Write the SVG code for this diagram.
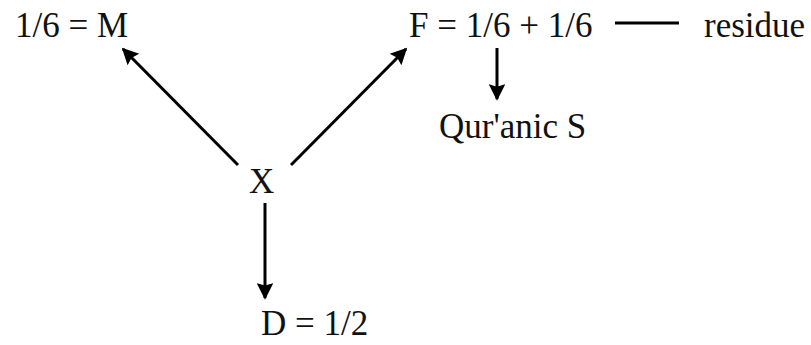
<svg xmlns="http://www.w3.org/2000/svg" width="811" height="345" viewBox="0 0 811 345">
<defs>
<marker id="ah" viewBox="0 0 10 10" refX="9" refY="5" markerWidth="6.5" markerHeight="5.5" markerUnits="strokeWidth" orient="auto">
<path d="M0,0 L10,5 L0,10 L1.5,5 Z" fill="#000"/>
</marker>
<style>
.c{stroke:#000;stroke-width:3;fill:none}
.a{marker-end:url(#ah)}
</style>
</defs>
<rect width="811" height="345" fill="#fff"/>
<g id="M"><text font-family="Liberation Serif" font-size="35" fill="#111" x="15" y="37">1/6 = M</text></g>
<g id="F"><text font-family="Liberation Serif" font-size="35" fill="#111" x="409" y="37">F = 1/6 + 1/6</text></g>
<g id="residue"><text font-family="Liberation Serif" font-size="35" fill="#111" x="704" y="37">residue</text></g>
<g id="S"><text font-family="Liberation Serif" font-size="35" fill="#111" x="439" y="138">Qur'anic S</text></g>
<g id="X"><text font-family="Liberation Serif" font-size="35" fill="#111" x="249" y="193">X</text></g>
<g id="D"><text font-family="Liberation Serif" font-size="35" fill="#111" x="261" y="335">D = 1/2</text></g>
<g id="connectors">
<line class="c a" x1="238" y1="165" x2="123" y2="49"/>
<line class="c a" x1="291" y1="165" x2="406" y2="49"/>
<line class="c a" x1="265" y1="203" x2="265" y2="298"/>
<line class="c a" x1="497" y1="48" x2="497" y2="99"/>
<line class="c" x1="615" y1="23" x2="679" y2="23"/>
</g>
</svg>
